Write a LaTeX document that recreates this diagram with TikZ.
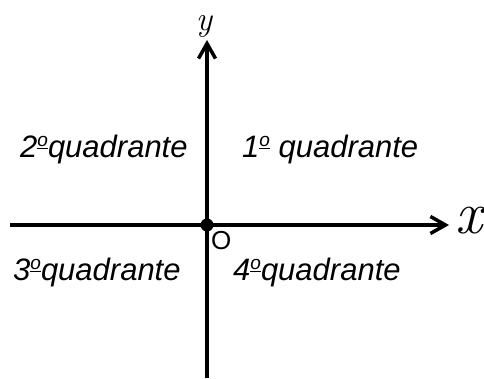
\documentclass[tikz,border=0pt]{standalone}
\usepackage{fontspec}
\setmainfont{Liberation Sans}
\newfontfamily\axisfont{Latin Modern Roman}
\usetikzlibrary{arrows.meta}
\newcommand{\ordo}{\raisebox{.34em}{\fontsize{19}{19}\selectfont\underline{o}}}

\begin{document}
\begin{tikzpicture}[x=1pt,y=1pt,>={Straight Barb[length=15pt,width=17pt,line width=3.5pt]},
  quad/.style={anchor=base west,inner sep=0pt,font=\fontsize{31}{31}\selectfont\itshape}]
\useasboundingbox (0,0) rectangle (484,378);
\coordinate (xl) at (10,153);
\coordinate (xr) at (449,153);
\coordinate (yb) at (207,0);
\coordinate (yt) at (207,338);
\draw[->,line width=3.5pt] (xl) -- (xr);
\draw[->,line width=3.5pt] (yb) -- (yt);
\fill (207,153) circle (6.5pt) node (o) [below right,inner sep=0pt,xshift=4pt,yshift=-6pt,font=\fontsize{26}{26}\selectfont] {O};
\node (xlab) [anchor=west,inner sep=0pt,font=\axisfont\fontsize{60}{60}\selectfont\itshape] at (455,157) {x};
\node (ylab) [anchor=south,inner sep=0pt,font=\axisfont\fontsize{34}{34}\selectfont\itshape] at (204,340) {y};
\node (q1) [quad] at (242,221) {1\ordo\ quadrante};
\node (q2) [quad] at (20,221) {2\ordo quadrante};
\node (q3) [quad] at (13,98) {3\ordo quadrante};
\node (q4) [quad] at (233,98) {4\ordo quadrante};
\end{tikzpicture}
\end{document}
